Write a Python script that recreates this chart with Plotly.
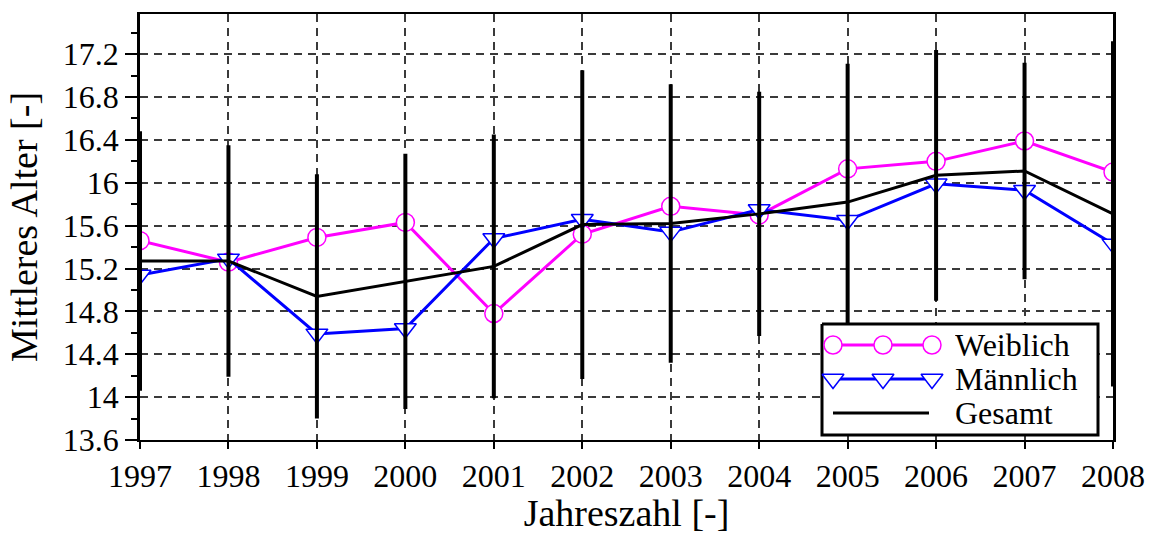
import plotly.graph_objects as go

# Mean age per year, by sex and overall, with the spread of the overall value
years = [1997, 1998, 1999, 2000, 2001, 2002, 2003, 2004, 2005, 2006, 2007, 2008]
weiblich = [15.46, 15.26, 15.49, 15.63, 14.78, 15.52, 15.78, 15.70, 16.13, 16.20, 16.39, 16.10]
maennlich = [15.14, 15.29, 14.59, 14.64, 15.48, 15.66, 15.54, 15.75, 15.65, 15.99, 15.93, 15.43]
gesamt = [15.27, 15.27, 14.94, 15.08, 15.22, 15.61, 15.62, 15.71, 15.82, 16.07, 16.11, 15.71]
streuung = [1.21, 1.08, 1.14, 1.19, 1.23, 1.44, 1.30, 1.14, 1.29, 1.17, 1.01, 1.61]

series_names = ["Weiblich", "Männlich", "Gesamt"]
x_title = "Jahreszahl [-]"
y_title = "Mittleres Alter [-]"

FONT = "Liberation Serif"
W, H = 1153, 534
L, R, T, B = 140, 40, 14, 94
MAGENTA = "#FF00FF"
BLUE = "#0000FF"
GRID = "#3a3a3a"

w_style = dict(mode="lines+markers", line=dict(color=MAGENTA, width=3),
               marker=dict(symbol="circle", size=18, color="white",
                           line=dict(color=MAGENTA, width=1.5)))
m_style = dict(mode="lines+markers", line=dict(color=BLUE, width=3),
               marker=dict(symbol="triangle-down", size=19, color="white",
                           line=dict(color=BLUE, width=1.5)))
g_style = dict(mode="lines", line=dict(color="black", width=3))

fig = go.Figure()
fig.add_trace(go.Scatter(x=years, y=weiblich, name=series_names[0], **w_style))
fig.add_trace(go.Scatter(x=years, y=maennlich, name=series_names[1], **m_style))
fig.add_trace(go.Scatter(
    x=years, y=gesamt, name=series_names[2],
    error_y=dict(type="data", array=streuung, color="black", thickness=4, width=0),
    **g_style))

# Legend panel drawn on an overlay axis measured in pixels of the page
box_x0, box_x1, box_y0, box_y1 = 822, 1098, 324, 435
row_y = [345, 379, 413]
key_x = [833, 883, 932]
text_x = 953

fig.add_trace(go.Scatter(
    x=[box_x0, box_x1, box_x1, box_x0, box_x0],
    y=[box_y0, box_y0, box_y1, box_y1, box_y0],
    mode="lines", fill="toself", fillcolor="white",
    line=dict(color="black", width=3),
    xaxis="x2", yaxis="y2", hoverinfo="skip"))
for style, ry in zip([w_style, m_style], row_y[:2]):
    fig.add_trace(go.Scatter(x=key_x, y=[ry] * len(key_x), xaxis="x2", yaxis="y2",
                             hoverinfo="skip", **style))
fig.add_trace(go.Scatter(x=[key_x[0], key_x[-1] - 3], y=[row_y[2]] * 2, xaxis="x2",
                         yaxis="y2", hoverinfo="skip", **g_style))
for name, ry in zip(series_names, row_y):
    fig.add_annotation(x=text_x, y=ry, xref="x2", yref="y2", text=name,
                       showarrow=False, xanchor="left", yanchor="middle",
                       height=30, valign="middle",
                       font=dict(family=FONT, size=32, color="black"))

axis_font = dict(family=FONT, size=32, color="black")
title_font = dict(family=FONT, size=38, color="black")

fig.update_layout(
    width=W, height=H,
    margin=dict(l=L, r=R, t=T, b=B, autoexpand=False),
    paper_bgcolor="white", plot_bgcolor="white",
    showlegend=False,
    font=dict(family=FONT, color="black"),
    xaxis=dict(
        range=[1997, 2008], tick0=1997, dtick=1,
        ticks="outside", ticklen=7, tickwidth=2, tickcolor="black",
        tickfont=axis_font, automargin=False,
        showline=True, linecolor="black", linewidth=2, mirror=True,
        showgrid=True, gridcolor=GRID, gridwidth=1.8, griddash="8px,6px",
        zeroline=False,
        title=dict(text=x_title, font=title_font, standoff=14),
    ),
    yaxis=dict(
        range=[13.6, 17.575], tick0=13.6, dtick=0.4,
        ticks="outside", ticklen=12, tickwidth=2, tickcolor="black",
        tickfont=axis_font, automargin=False,
        minor=dict(tick0=13.6, dtick=0.2, ticks="outside", ticklen=6,
                   tickwidth=1.5, tickcolor="black", showgrid=False),
        showline=True, linecolor="black", linewidth=2.5, mirror=True,
        showgrid=True, gridcolor=GRID, gridwidth=1.8, griddash="8px,6px",
        zeroline=False,
        title=dict(text=y_title, font=title_font, standoff=14),
    ),
    yaxis3=dict(
        overlaying="y", anchor="x", side="right", range=[13.6, 17.575],
        tick0=13.6, dtick=0.4, ticks="inside", ticklen=10, tickwidth=1.5,
        tickcolor="black", showticklabels=False, showgrid=False,
        showline=False, zeroline=False, automargin=False,
    ),
    xaxis2=dict(overlaying="x", range=[L, W - R], visible=False, fixedrange=True),
    yaxis2=dict(overlaying="y", range=[H - B, T], visible=False, fixedrange=True),
)

fig.write_html("out.html")
